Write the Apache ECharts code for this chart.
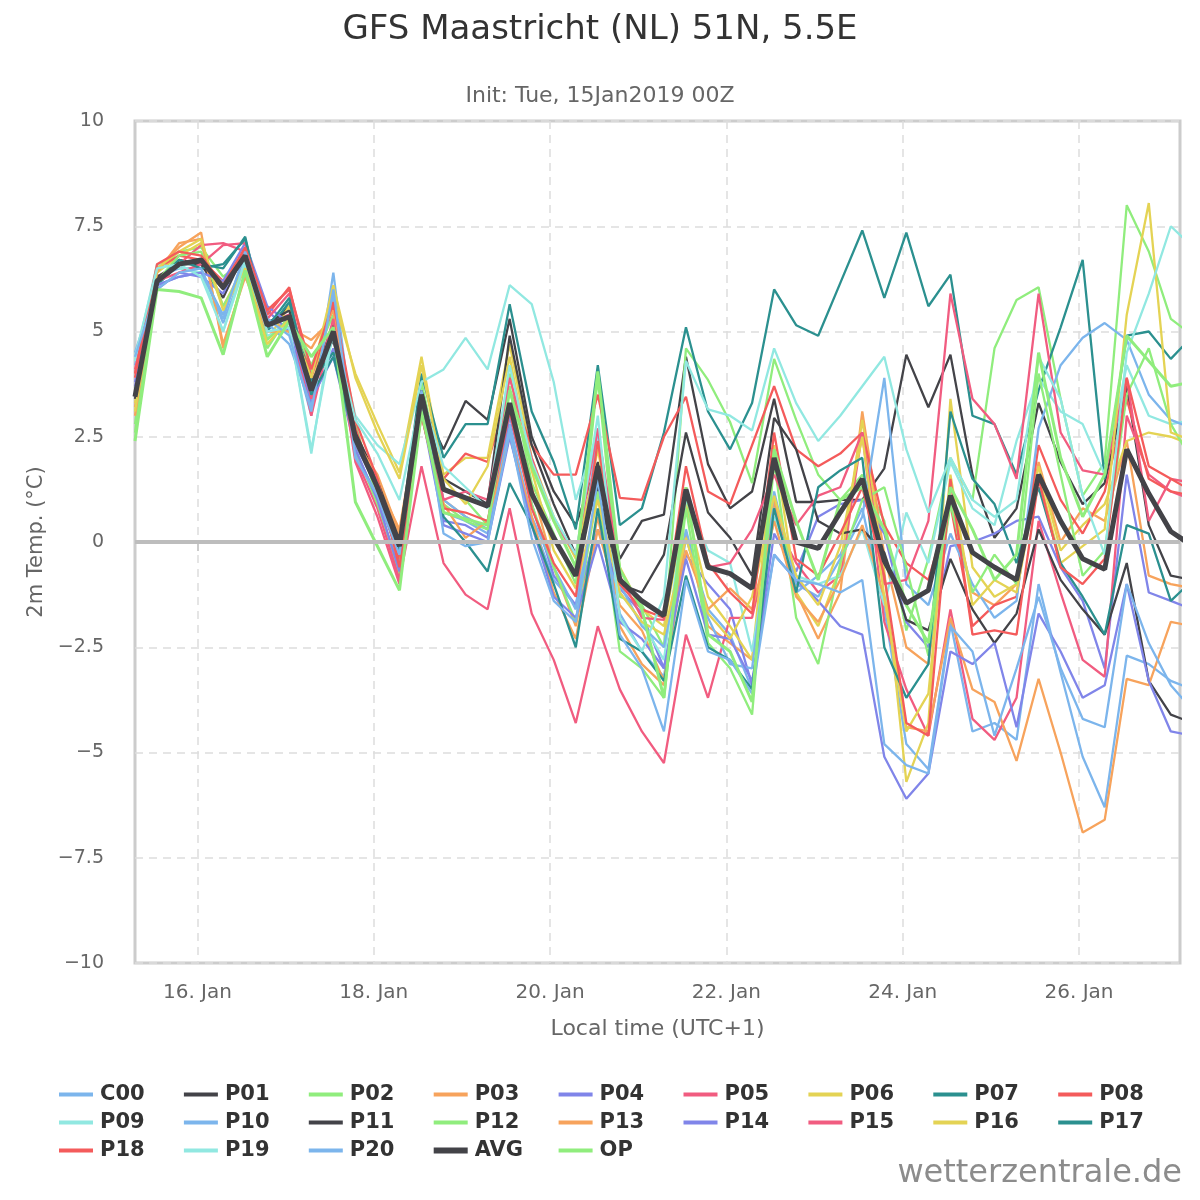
<!DOCTYPE html>
<html>
<head>
<meta charset="utf-8">
<script src="https://cdn.jsdelivr.net/npm/echarts@6/dist/echarts.min.js"></script>
<style>
html, body { margin: 0; background: #fff; }
#main { width: 1200px; height: 1200px; }
</style>
</head>
<body>
<div id="main"></div>
<script>
// hours after 15 Jan 2019 00:00 local time (UTC+1), one value every 6 h
var hours = [7,13,19,25,31,37,43,49,55,61,67,73,79,85,91,97,103,109,115,121,127,133,139,145,151,157,163,169,175,181,187,193,199,205,211,217,223,229,235,241,247,253,259,265,271,277,283,289,295];
var dayTicks = [24, 72, 120, 168, 216, 264];
var dayLabels = ['16. Jan', '18. Jan', '20. Jan', '22. Jan', '24. Jan', '26. Jan'];

// 2m temperature (°C) per run
var c00 = [4.2,6.3,6.5,6.5,5.2,6.6,5.3,5.0,3.0,6.4,2.2,1.0,-0.3, 3.3,0.7,0.5,0.2, 2.8,0.5,-0.9,-1.5, 1.2,-1.7,-2.6,-3.2, 0.1,-1.6,-2.2,-3.5, 0.9,-1.2,-0.8,-0.3, 0.8,-1.6,-4.8,-5.4, -1.9,-4.5,-4.3,-4.7, -1.0,-3.1,-5.1,-6.3, -2.7,-2.9,-3.3,-3.5];
var p01 = [3.5,6.2,6.7,6.6,5.8,6.9,5.1,5.6,3.8,4.8,2.5,1.2,-0.2, 3.3,2.2,3.35,2.9, 5.3,2.5,1.2,0.4, 1.9,-0.4,0.5,0.65, 4.4,1.85,0.8,1.2, 3.4,0.95,0.95,1.0, 1.0,1.75,4.45,3.2, 4.45,1.6,0.1,0.8, 3.3,1.9,0.9,1.4, 3.7,0.4,-0.8,-0.9];
var p02 = [2.6,6.4,6.9,7.0,6.3,6.7,4.6,5.4,4.0,5.6,2.8,1.0,-0.8, 3.8,1.3,1.0,0.4, 4.0,1.4,0.2,-1.0, 3.9,-1.3,-1.5,-2.5, 4.6,3.85,2.85,1.4, 4.35,2.9,1.6,1.0, 1.6,0.5,-2.1,-0.4, 2.0,1.0,4.6,5.75, 6.05,3.4,1.1,1.9, 8.0,6.9,5.3,4.9];
var p03 = [3.2,6.5,7.0,7.35,4.6,6.4,5.2,5.1,4.8,5.3,2.6,1.4,0.3, 3.4,1.0,0.6,0.3, 3.0,1.3,-0.6,-2.0, 0.6,-2.0,-2.9,-3.4, 0.2,-2.0,-2.4,-2.8, 1.0,-1.2,-2.3,-1.2, 3.1,-0.3,-2.5,-2.9, 1.0,-1.2,-1.5,-1.0, 1.9,0.0,0.8,0.5, 2.4,-0.8,-1.0,-1.1];
var p04 = [3.8,6.0,6.4,6.3,5.9,7.0,5.5,5.0,3.3,4.6,2.3,1.3,-0.5, 3.2,0.5,0.4,0.1, 3.0,0.9,-0.8,-1.5, 0.3,-1.1,-1.7,-3.0, -0.3,-1.0,-1.6,-3.4, 0.2,-0.7,0.6,0.9, 1.0,0.2,-1.9,-2.5, -0.1,0.0,0.2,0.5, 0.6,-0.6,-1.4,-3.0, 1.6,-1.2,-1.4,-1.6];
var p05 = [4.0,6.3,6.6,7.05,7.1,6.9,5.2,5.4,3.0,5.2,2.0,0.8,-0.9, 1.8,-0.5,-1.25,-1.6, 0.8,-1.7,-2.8,-4.3, -2.0,-3.5,-4.5,-5.25, -2.2,-3.7,-1.8,-1.8, 0.5,-0.5,-1.2,-0.8, 2.6,-1.9,-3.5,-4.6, -1.6,-4.2,-4.7,-3.7, 0.5,-1.2,-2.8,-3.2, 3.0,1.6,1.2,1.0];
var p06 = [3.3,6.4,6.8,7.1,5.6,6.6,4.8,5.6,3.6,5.8,4.0,2.8,1.65, 4.4,1.6,2.0,2.0, 4.7,2.0,0.6,-0.4, 2.2,-0.6,-1.6,-2.0, 0.9,-1.3,-2.0,-2.8, 2.3,-1.2,-2.0,-0.6, 2.9,-0.7,-5.7,-4.3, 3.4,-0.6,-1.3,-1.0, 1.8,-0.2,0.4,0.9, 2.4,2.6,2.5,2.3];
var p07 = [3.6,6.1,6.6,6.6,6.5,7.25,5.0,5.7,3.8,4.5,2.5,1.4,0.0, 4.0,2.0,2.8,2.8, 5.65,3.1,1.9,0.3, 4.2,0.4,0.8,2.6, 5.1,3.1,2.2,3.3, 6.0,5.15,4.9,6.15, 7.4,5.8,7.35,5.6, 6.35,3.0,2.8,1.6, 3.6,5.1,6.7,1.5, 4.9,5.0,4.35,4.9];
var p08 = [3.9,6.5,6.8,6.7,6.2,6.9,5.4,6.05,3.9,5.6,2.7,1.2,-0.4, 3.4,1.5,2.1,1.9, 3.6,2.3,1.6,1.6, 3.5,1.05,1.0,2.5, 3.45,1.2,0.9,2.3, 3.7,2.2,1.8,2.1, 2.6,0.4,-0.5,-0.9, 0.9,-2.0,-1.5,-1.3, 2.3,1.0,0.2,1.2, 3.4,1.5,1.2,1.1];
var p09 = [4.3,6.6,6.5,6.4,5.0,6.6,4.9,5.1,2.1,5.3,3.0,2.3,1.85, 3.8,4.1,4.85,4.1, 6.1,5.65,3.8,1.0, 2.6,-1.2,-1.9,-2.8, 1.0,-0.2,-0.5,-2.6, 0.6,-0.8,-1.0,-0.8, 0.3,-1.5,0.7,-0.5, 1.9,0.8,0.4,2.4, 3.9,3.1,2.8,1.6, 4.2,3.0,2.8,2.9];
var p10 = [4.5,6.1,6.3,6.4,5.4,6.8,5.2,4.7,3.2,5.9,2.1,1.1,-0.3, 3.3,1.0,0.6,0.3, 2.7,0.6,-0.6,-1.6, 2.7,-1.0,-2.0,-2.5, 0.3,-1.8,-2.9,-3.0, 1.2,-1.0,-1.3,-0.4, 0.6,3.9,-1.0,-1.5, 0.2,-1.0,-1.8,-1.4, 2.7,4.2,4.85,5.2, 4.8,3.5,2.9,2.7];
var p11 = [3.4,6.3,6.6,6.6,6.0,6.8,5.2,5.5,3.7,5.2,2.6,1.5,0.1, 3.6,1.5,1.2,0.9, 4.9,2.3,0.9,-0.3, 1.3,-1.0,-1.2,-0.3, 2.6,0.7,0.1,-0.8, 2.95,2.2,0.5,0.2, 0.3,-0.25,-1.85,-2.1, -0.4,-1.6,-2.4,-1.7, 0.3,-0.9,-1.6,-2.2, -0.5,-3.3,-4.1,-4.3];
var p12 = [2.8,6.2,6.8,6.9,5.6,6.5,4.8,5.3,4.2,5.4,2.2,0.9,-0.6, 3.3,0.9,0.5,0.3, 3.7,0.9,-0.6,-1.9, 1.2,-2.6,-3.0,-3.7, 0.8,-2.4,-3.0,-4.1, 1.9,-1.8,-2.9,-0.5, 1.0,1.3,-0.6,-2.7, 0.9,-1.2,-0.3,-1.0, 4.0,1.6,-0.8,-0.2, 3.5,4.6,2.8,1.9];
var p13 = [3.0,6.4,7.1,7.2,4.7,6.3,5.0,5.0,4.6,5.5,2.4,1.6,0.2, 3.0,0.9,0.1,0.5, 2.5,0.6,-1.2,-2.3, 0.3,-1.5,-2.1,-3.3, -0.2,-1.6,-1.1,-1.6, 0.5,-1.3,-1.9,-0.9, 0.4,-1.3,-4.4,-4.5, -1.8,-3.5,-3.8,-5.2, -3.25,-5.0,-6.9,-6.6, -3.25,-3.4,-1.9,-2.0];
var p14 = [3.7,6.1,6.3,6.4,6.2,7.1,5.6,5.2,3.4,4.4,2.2,1.0,-0.7, 3.1,0.4,0.2,0.0, 2.5,0.4,-1.3,-1.8, 0.0,-1.9,-2.3,-3.0, -0.4,-2.2,-2.3,-3.3, -0.3,-0.9,-1.4,-2.0, -2.2,-5.1,-6.1,-5.5, -2.6,-2.9,-2.4,-4.4, -1.7,-2.6,-3.7,-3.4, -1.0,-3.3,-4.5,-4.6];
var p15 = [4.1,6.2,6.4,6.6,7.05,7.1,5.3,5.9,3.4,5.3,1.9,0.6,-1.0, 3.4,1.0,1.2,1.0, 3.9,2.0,0.5,-0.3, 2.7,-0.8,-1.8,-1.85, 1.3,-0.6,-0.5,0.3, 1.6,0.4,1.1,1.3, 2.6,-1.0,-0.9,0.5, 5.9,3.4,2.8,1.5, 5.9,2.6,1.7,1.6, 3.9,0.5,1.5,1.4];
var p16 = [3.1,6.5,6.9,7.2,5.5,6.5,4.7,5.3,3.9,6.1,3.9,2.6,1.5, 4.2,1.5,0.9,1.8, 4.4,1.7,-0.2,-1.1, 1.0,-1.2,-1.9,-2.2, 0.1,-1.7,-2.3,-1.3, 1.1,-0.8,-1.5,-0.1, 2.5,-1.3,-4.5,-3.6, 1.6,-1.5,-0.9,-1.2, 1.6,-0.5,-0.1,0.3, 5.4,8.05,2.6,2.4];
var p17 = [3.5,6.2,6.7,6.5,6.6,7.2,5.1,5.8,3.5,4.4,2.4,1.3,-0.2, 3.4,0.6,0.0,-0.7, 1.4,0.4,-1.0,-2.5, 0.8,-2.3,-2.6,-3.3, -0.8,-2.5,-2.8,-3.5, 0.8,-1.2,1.3,1.7, 2.0,-2.5,-3.7,-2.9, 3.1,1.5,0.9,-0.5, 1.3,-0.5,-1.3,-2.2, 0.4,0.2,-1.4,-0.9];
var p18 = [4.0,6.6,6.9,6.8,6.1,7.0,5.5,6.0,4.1,5.7,2.9,1.5,-0.6, 3.0,0.8,0.7,0.5, 3.1,0.8,-0.5,-1.3, 2.4,-1.0,-1.6,-1.8, 1.8,-0.5,-1.2,-1.7, 2.6,-0.4,-0.8,0.2, 1.3,-0.8,-4.3,-4.6, 1.5,-2.2,-2.1,-2.2, 1.5,-0.6,-1.0,-0.4, 3.9,1.8,1.5,1.2];
var p19 = [4.4,6.5,6.6,6.3,5.0,6.7,5.0,5.1,2.2,5.0,2.9,2.1,1.0, 3.5,1.8,1.3,0.8, 4.2,1.9,0.6,-0.3, 3.0,-1.8,-2.6,-1.3, 4.3,3.15,3.0,2.65, 4.6,3.3,2.4,3.0, 3.7,4.4,2.2,0.7, 2.0,1.0,0.6,1.0, 4.4,3.4,1.1,-0.3, 4.5,5.9,7.5,7.0];
var p20 = [4.4,6.0,6.4,6.5,5.3,6.9,5.3,4.9,3.1,6.0,2.0,1.1,-0.3, 3.6,0.2,-0.1,0.0, 2.6,0.1,-1.4,-1.9, 1.5,-2.2,-3.0,-4.5, -0.9,-2.6,-2.8,-3.6, -0.3,-0.9,-1.0,-1.2, -0.9,-4.8,-5.3,-5.5, -2.0,-2.6,-4.6,-3.0, -1.3,-3.0,-4.2,-4.4, -1.0,-2.4,-3.4,-4.0];
var avg = [3.45,6.2,6.6,6.7,6.05,6.8,5.15,5.35,3.6,5.0,2.45,1.3,-0.1, 3.5,1.25,1.05,0.85, 3.3,1.15,0.1,-0.8, 1.8,-0.9,-1.4,-1.75, 1.25,-0.6,-0.75,-1.1, 2.0,0.0,-0.15,0.7, 1.5,-0.45,-1.45,-1.15, 1.1,-0.25,-0.6,-0.9, 1.6,0.5,-0.4,-0.65, 2.2,1.15,0.25,-0.1];
var op = [2.4,6.0,5.95,5.8,4.45,6.45,4.4,5.25,4.4,5.1,0.95,-0.1,-1.15, 3.1,0.7,0.55,0.4, 3.6,1.8,0.5,-0.6, 4.05,-0.65,-1.6,-3.7, 1.3,-2.2,-2.6,-3.8, 2.2,0.5,-0.9,1.0, 1.3,0.3,-1.5,-2.4, 1.3,0.3,-0.9,-0.3, 4.5,2.0,0.6,1.6, 4.9,4.3,3.7,3.8];

var runNames = ['C00','P01','P02','P03','P04','P05','P06','P07','P08','P09','P10','P11','P12','P13','P14','P15','P16','P17','P18','P19','P20','AVG','OP'];
var runData = [c00,p01,p02,p03,p04,p05,p06,p07,p08,p09,p10,p11,p12,p13,p14,p15,p16,p17,p18,p19,p20,avg,op];
var palette = ['#7cb5ec','#434348','#90ed7d','#f7a35c','#8085e9','#f15c80','#e4d354','#2b908f','#f45b5b','#91e8e1'];

var font = 'DejaVu Sans';

function colorOf(k) {
    if (runNames[k] === 'AVG') return '#434348';
    if (runNames[k] === 'OP') return '#90ed7d';
    return palette[k % 10];
}

var series = runNames.map(function (name, k) {
    var w = 2.3, z = 2;
    if (name === 'AVG') { w = 5; z = 4; }
    if (name === 'OP') { w = 3; z = 3; }
    return {
        name: name,
        type: 'line',
        z: z,
        showSymbol: false,
        symbol: 'none',
        color: colorOf(k),
        lineStyle: { width: w, color: colorOf(k) },
        emphasis: { disabled: true },
        data: runData[k].map(function (v, i) { return [hours[i], v]; })
    };
});

// thick zero line under the runs
series.unshift({
    name: 'zero',
    type: 'line',
    z: 1,
    data: [],
    markLine: {
        silent: true,
        symbol: 'none',
        label: { show: false },
        lineStyle: { color: '#bdbdbd', width: 4, type: 'solid' },
        data: [{ yAxis: 0 }]
    }
});

// one legend per entry so the columns line up
var legends = runNames.map(function (name, k) {
    var col = k % 9, row = Math.floor(k / 9);
    return {
        data: [name],
        left: 59 + col * 124.9,
        top: 1084 + row * 28,
        padding: 0,
        icon: 'rect',
        itemWidth: 34,
        itemHeight: name === 'AVG' ? 6 : 4,
        selectedMode: false,
        textStyle: { fontFamily: font, fontSize: 21, fontWeight: 'bold', color: '#333', padding: [0, 0, 0, 2] }
    };
});

var chart = echarts.init(document.getElementById('main'));
chart.setOption({
    animation: false,
    backgroundColor: '#fff',
    title: [
        { text: 'GFS Maastricht (NL) 51N, 5.5E', left: 'center', top: 8,
          textStyle: { fontFamily: font, fontSize: 34, fontWeight: 'normal', color: '#333' } },
        { text: 'Init: Tue, 15Jan2019 00Z', left: 'center', top: 80,
          textStyle: { fontFamily: font, fontSize: 22, fontWeight: 'normal', color: '#666' } }
    ],
    legend: legends,
    grid: { left: 135, right: 20, top: 121, bottom: 237, show: true, borderColor: '#cccccc', borderWidth: 3 },
    xAxis: {
        type: 'value',
        min: 7,
        max: 291.5,
        name: 'Local time (UTC+1)',
        nameLocation: 'middle',
        nameGap: 55,
        nameTextStyle: { fontFamily: font, fontSize: 22, color: '#666' },
        axisLine: { show: false },
        axisTick: { show: true, length: 9, lineStyle: { color: '#cccccc', width: 2 }, customValues: dayTicks },
        axisLabel: {
            customValues: dayTicks,
            fontFamily: font, fontSize: 20, color: '#666', margin: 20,
            formatter: function (v) { return dayLabels[dayTicks.indexOf(v)] || ''; }
        },
        splitLine: { show: true, lineStyle: { color: '#dddddd', width: 1.5, type: [8, 6] } }
    },
    yAxis: {
        type: 'value',
        min: -10,
        max: 10,
        interval: 2.5,
        name: '2m Temp. (°C)',
        nameLocation: 'middle',
        nameGap: 84,
        nameRotate: 90,
        nameTextStyle: { fontFamily: font, fontSize: 21, color: '#666' },
        axisLine: { show: false },
        axisTick: { show: false },
        axisLabel: {
            fontFamily: font, fontSize: 19, color: '#666', margin: 31,
            formatter: function (v) { return v < 0 ? '\u2212' + String(-v) : String(v); }
        },
        splitLine: { show: true, lineStyle: { color: '#dddddd', width: 1.5, type: [8, 6] } }
    },
    graphic: [{
        type: 'text',
        right: 18,
        top: 1158,
        style: { text: 'wetterzentrale.de', fontFamily: font, fontSize: 32, fill: '#8c8c8c' }
    }],
    series: series
});
</script>
</body>
</html>
